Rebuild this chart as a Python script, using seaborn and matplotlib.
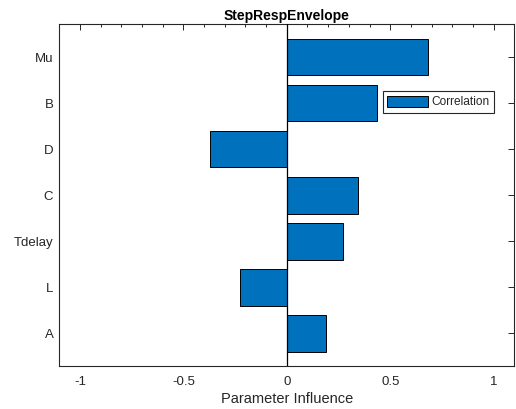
import matplotlib
matplotlib.use("Agg")
import matplotlib.pyplot as plt
from matplotlib.ticker import MultipleLocator
import seaborn as sns
import pandas as pd

params = ["Mu", "B", "D", "C", "Tdelay", "L", "A"]
correlation = [0.683, 0.437, -0.373, 0.345, 0.270, -0.227, 0.189]
xticks = [-1, -0.5, 0, 0.5, 1]
xtick_labels = ["-1", "-0.5", "0", "0.5", "1"]

sns.set_style("white")
plt.rcParams['font.family'] = ['Liberation Sans', 'DejaVu Sans']

df = pd.DataFrame({"param": params, "corr": correlation})

fig = plt.figure(figsize=(5.16, 4.09), dpi=100)
ax = fig.add_axes([0.115, 0.105, 0.8817, 0.836])

sns.barplot(data=df, x="corr", y="param", orient="h", order=params,
            color="#0072BD", saturation=1, edgecolor="black", linewidth=0.7,
            width=0.8, label="Correlation", ax=ax)

ax.axvline(0, color="black", lw=0.9, zorder=3)
ax.set_xlim(-1.1, 1.1)
ax.set_ylim(6.715, -0.715)
ax.set_xticks(xticks)
ax.set_xticklabels(xtick_labels)
ax.xaxis.set_minor_locator(MultipleLocator(0.1))

ax.tick_params(axis="both", which="both", direction="in", top=True, right=True,
               colors="#262626", labelsize=9.5, width=0.7)
ax.tick_params(axis="both", which="major", length=4)
ax.tick_params(axis="x", which="minor", length=2)
ax.tick_params(axis="x", pad=7)
ax.tick_params(axis="y", pad=4.3)

for s in ax.spines.values():
    s.set_color("#262626")
    s.set_linewidth(0.8)

ax.set_ylabel("")
ax.set_xlabel("Parameter Influence", fontsize=10.5, color="#262626", labelpad=3)
ax.set_title("StepRespEnvelope", fontsize=10, fontweight="bold", color="black", pad=3)

leg = ax.legend(loc="upper right", bbox_to_anchor=(0.955, 0.803), fontsize=8.6,
                fancybox=False, framealpha=1, edgecolor="#262626",
                handlelength=3.4, handleheight=1.07, borderpad=0.35,
                handletextpad=0.3, borderaxespad=0)
leg.get_frame().set_linewidth(0.8)

fig.savefig("out.png", dpi=100)
